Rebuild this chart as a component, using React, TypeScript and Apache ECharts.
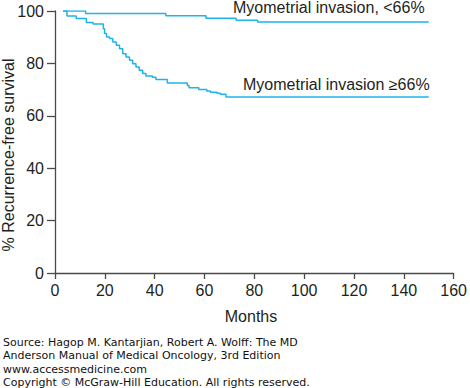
import React, { useEffect, useRef } from "react";
import * as echarts from "echarts";

const xTicks = [0, 20, 40, 60, 80, 100, 120, 140, 160];
const yTicks = [0, 20, 40, 60, 80, 100];

const upperMonths = [3.2, 12.3, 44.5, 60.6, 72.7, 81.3, 150];
const upperSurvival = [100, 99.0, 98.2, 97.2, 96.5, 95.8, 95.8];

const lowerMonths = [
  3.2, 4.8, 8.5, 12.6, 15.3, 19.4, 19.9, 20.7, 21.9, 23.2, 24.6, 25.9, 27.2,
  28.5, 29.9, 31.2, 32.5, 33.8, 35.2, 36.5, 39.1, 40.5, 45.1, 53.1, 53.8, 57.7,
  60.9, 62.4, 65.0, 66.4, 68.6, 150,
];
const lowerSurvival = [
  100, 98.1, 97.1, 95.6, 95.0, 93.2, 91.4, 90.1, 89.5, 88.2, 86.9, 85.6, 83.7,
  82.4, 81.2, 79.9, 78.6, 77.4, 76.1, 75.2, 74.7, 73.9, 72.5, 71.6, 70.7, 70.0,
  69.5, 69.0, 68.6, 68.2, 67.2, 67.2,
];

const seriesNames = ["Myometrial invasion, <66%", "Myometrial invasion \u226566%"];
const sourceLines = [
  "Source: Hagop M. Kantarjian, Robert A. Wolff: The MD",
  "Anderson Manual of Medical Oncology, 3rd Edition",
  "www.accessmedicine.com",
  "Copyright \u00a9 McGraw-Hill Education. All rights reserved.",
];

const FONT = "'Liberation Sans', Arial, Helvetica, sans-serif";
const TEXT = "#231f20";
const LINE = "#1db4ea";
const AXIS = "#4a4a4a";

export default function App() {
  const ref = useRef<HTMLDivElement>(null);
  useEffect(() => {
    if (!ref.current) return;
    const chart = echarts.init(ref.current, null, { renderer: "svg" });
    const zip = (xs: number[], ys: number[]) => xs.map((x, i) => [x, ys[i]]);
    chart.setOption({
      animation: false,
      grid: { left: 55, top: 11, width: 402, height: 262 },
      xAxis: {
        type: "value",
        min: xTicks[0],
        max: xTicks[xTicks.length - 1],
        interval: 20,
        axisLine: { lineStyle: { color: AXIS, width: 1.3 } },
        axisTick: { length: 6, lineStyle: { color: AXIS, width: 1.3 } },
        axisLabel: { color: TEXT, fontSize: 16, fontFamily: FONT, margin: 9 },
        splitLine: { show: false },
      },
      yAxis: {
        type: "value",
        min: yTicks[0],
        max: yTicks[yTicks.length - 1],
        interval: 20,
        axisLine: { show: true, lineStyle: { color: AXIS, width: 1.3 } },
        axisTick: { show: true, length: 8, lineStyle: { color: AXIS, width: 1.3 } },
        axisLabel: { color: TEXT, fontSize: 16, fontFamily: FONT, margin: 11 },
        splitLine: { show: false },
      },
      series: [
        {
          name: seriesNames[0],
          type: "line",
          step: "end",
          symbol: "none",
          data: zip(upperMonths, upperSurvival),
          lineStyle: { color: LINE, width: 1.5 },
        },
        {
          name: seriesNames[1],
          type: "line",
          step: "end",
          symbol: "none",
          data: zip(lowerMonths, lowerSurvival),
          lineStyle: { color: LINE, width: 1.5 },
        },
      ],
      graphic: [
        {
          type: "text",
          x: 233,
          y: 7,
          style: { text: seriesNames[0], font: `16px ${FONT}`, lineHeight: 14, fill: TEXT, verticalAlign: "middle" },
        },
        {
          type: "text",
          x: 243,
          y: 84,
          style: { text: seriesNames[1], font: `16px ${FONT}`, fill: TEXT, verticalAlign: "middle" },
        },
        {
          type: "text",
          x: 251,
          y: 316,
          style: { text: "Months", font: `16px ${FONT}`, fill: TEXT, align: "center", verticalAlign: "middle" },
        },
        {
          type: "text",
          x: 8,
          y: 155,
          rotation: Math.PI / 2,
          style: {
            text: "% Recurrence-free survival",
            font: `16px ${FONT}`,
            fill: TEXT,
            align: "center",
            verticalAlign: "middle",
          },
        },
        ...sourceLines.map((t, i) => ({
          type: "text",
          x: 3,
          y: 342.5 + i * 13.3,
          style: {
            text: t,
            font: `11px 'DejaVu Sans', Verdana, sans-serif`,
            lineHeight: 11,
            fill: "#111",
            verticalAlign: "middle",
          },
        })),
      ],
    });
    return () => chart.dispose();
  }, []);
  return <div ref={ref} style={{ position: "absolute", left: 0, top: 0, width: 470, height: 388 }} />;
}
